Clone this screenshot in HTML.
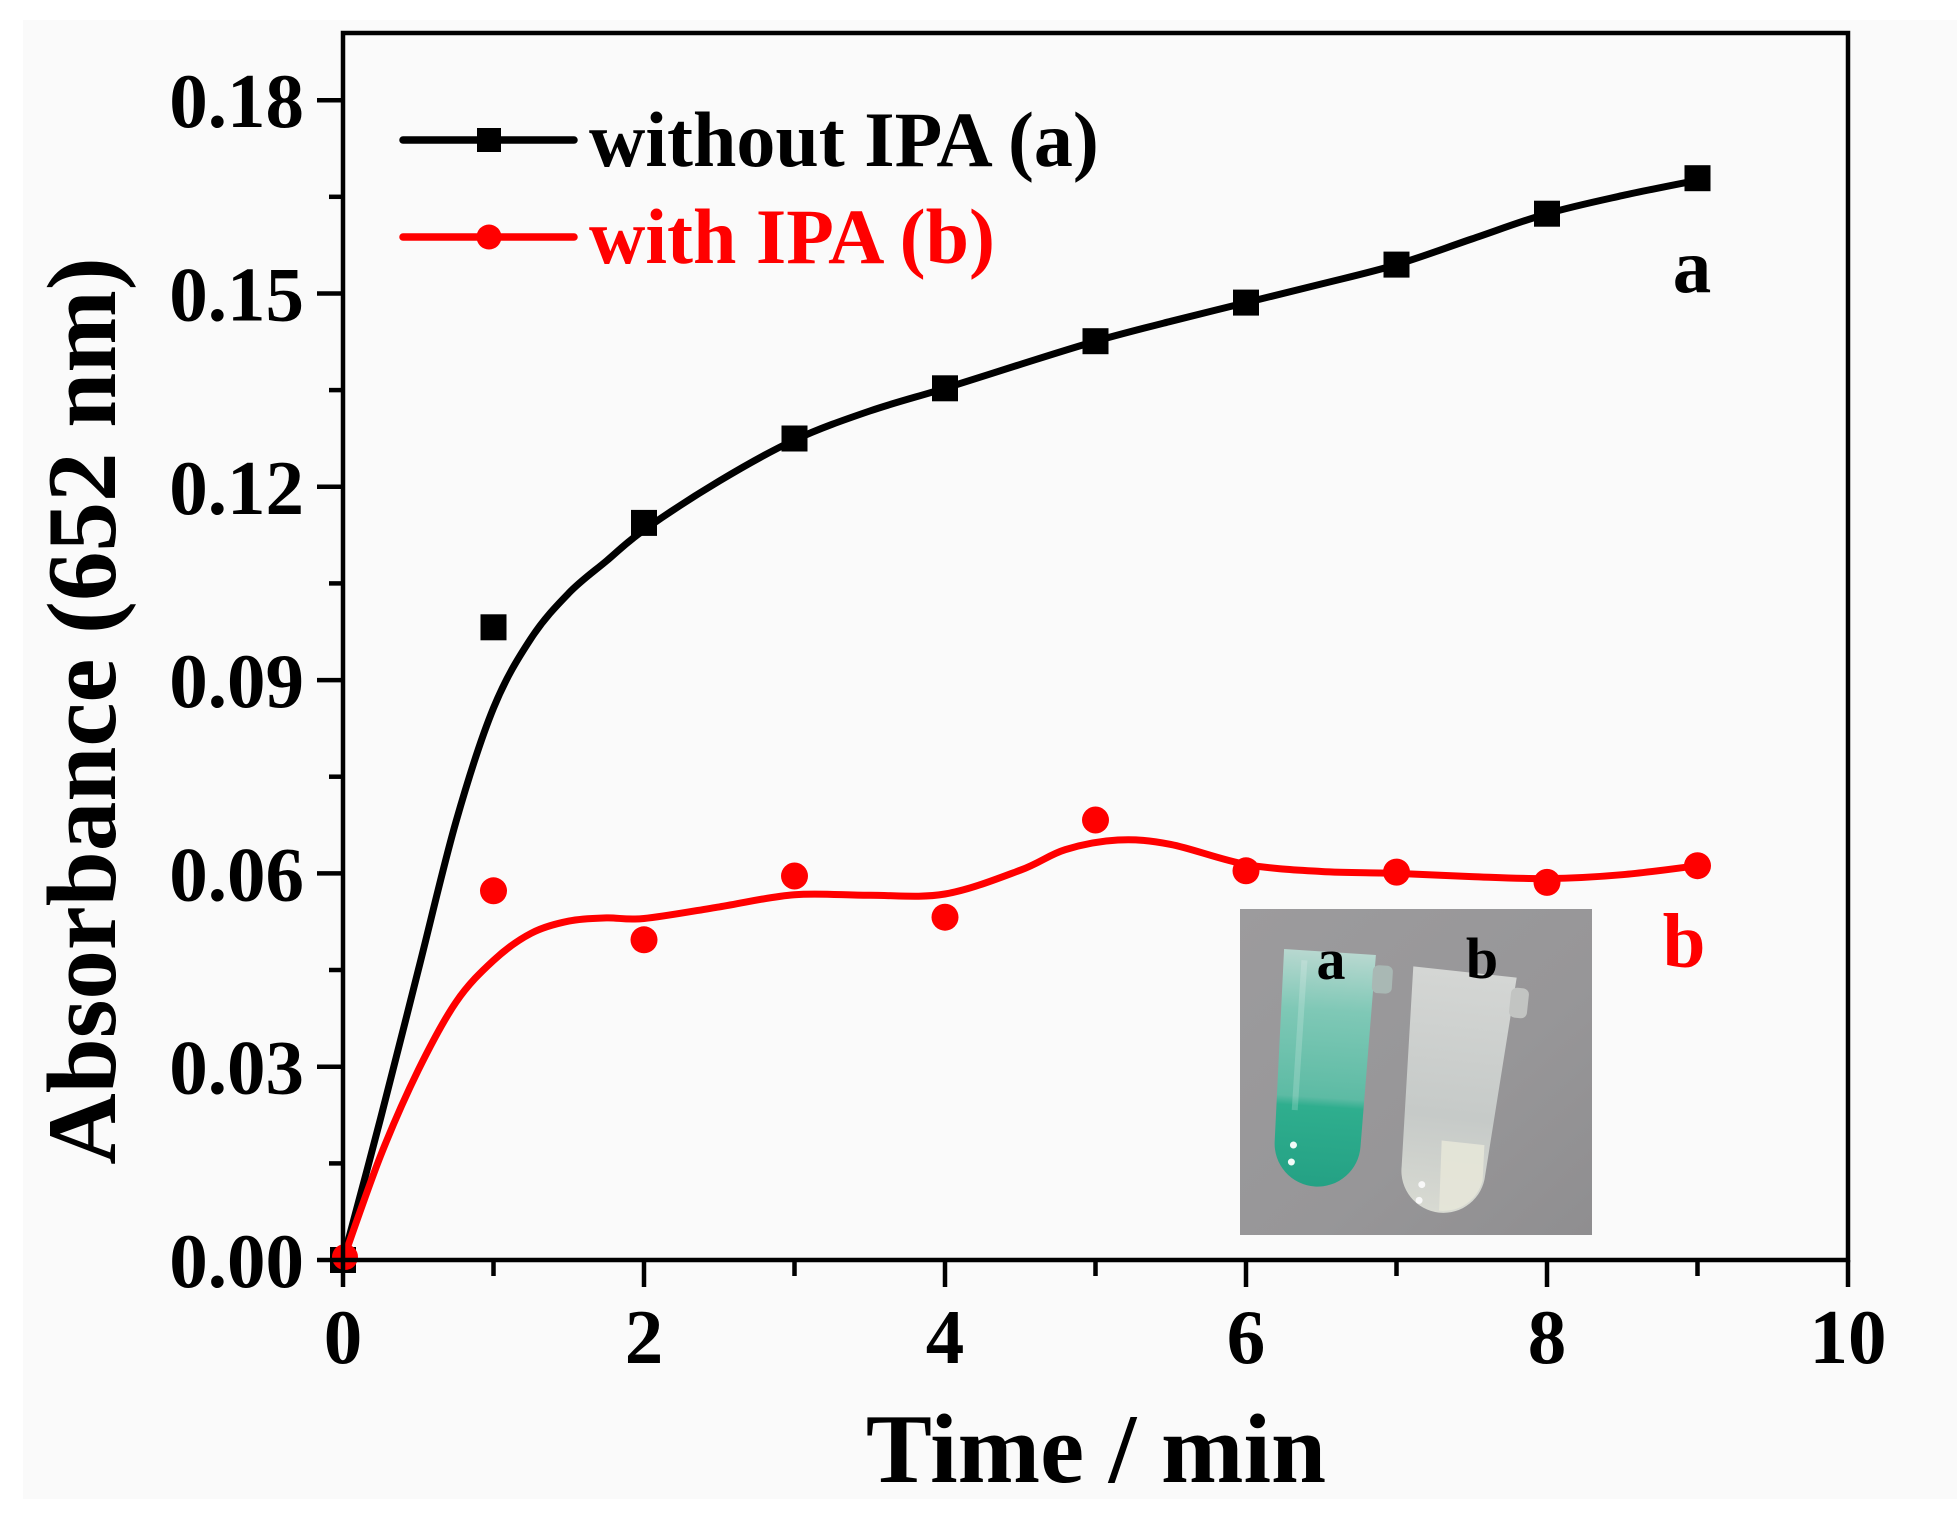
<!DOCTYPE html>
<html>
<head>
<meta charset="utf-8">
<style>
  html,body{margin:0;padding:0;background:#ffffff;}
  svg{display:block;}
  text{font-family:"Liberation Serif","Times New Roman",serif;font-weight:bold;}
</style>
</head>
<body>
<svg id="chart" width="1957" height="1528" viewBox="0 0 1957 1528" xmlns="http://www.w3.org/2000/svg">
  <defs>
    <linearGradient id="photoBg" x1="0" y1="0" x2="1" y2="1">
      <stop offset="0" stop-color="#9c9b9d"/>
      <stop offset="0.6" stop-color="#979698"/>
      <stop offset="1" stop-color="#8f8e90"/>
    </linearGradient>
    <linearGradient id="tubeA" x1="0" y1="0" x2="0" y2="1">
      <stop offset="0" stop-color="#b8d8d0"/>
      <stop offset="0.25" stop-color="#7fc8b6"/>
      <stop offset="0.62" stop-color="#5dbba4"/>
      <stop offset="0.66" stop-color="#2fae8e"/>
      <stop offset="1" stop-color="#24a184"/>
    </linearGradient>
    <linearGradient id="tubeB" x1="0" y1="0" x2="0" y2="1">
      <stop offset="0" stop-color="#d4d6d4"/>
      <stop offset="0.6" stop-color="#c6cac8"/>
      <stop offset="1" stop-color="#d8dad2"/>
    </linearGradient>
  </defs>

  <rect x="0" y="0" width="1957" height="1528" fill="#ffffff"/>
  <rect x="23" y="20" width="1934" height="1479" fill="#fafafa"/>

  <!-- curves -->
  <polyline id="curveA" fill="none" stroke="#000" stroke-width="7" stroke-linejoin="round" stroke-linecap="round"
    points="343,1260 380.6,1118.3 418.3,970 455.9,822 493.5,708 531.1,638.3 568.8,593.1 606.4,561 644,530 719.3,481 794.5,440 869.8,411 945,388.3 1020.3,364.4 1095.5,341.2 1170.8,321.3 1246,302.6 1321.3,284 1396.5,264.6 1471.8,239 1547,213.7 1622.3,195.6 1697.5,180.2"/>
  <polyline id="curveB" fill="none" stroke="#ff0000" stroke-width="7" stroke-linejoin="round" stroke-linecap="round"
    points="343,1260 380.6,1155.6 418.3,1070 455.9,1002.3 493.5,960.4 531.1,933.3 568.8,921.1 606.4,917.9 644,918.5 719.3,906.9 794.5,894.7 869.8,895.3 945,894 1020.3,870.2 1065.4,849.6 1118,840 1170.8,844.4 1246,864.4 1321.3,871.5 1396.5,873.4 1471.8,876.6 1547,878.6 1622.3,874.7 1697.5,865.7"/>

  <g fill="#000">
    <rect x="330" y="1247" width="26" height="26"/>
    <rect x="480.5" y="614.3" width="26" height="26"/>
    <rect x="631" y="509.9" width="26" height="26"/>
    <rect x="781.5" y="425.5" width="26" height="26"/>
    <rect x="932" y="375.3" width="26" height="26"/>
    <rect x="1082.5" y="328.2" width="26" height="26"/>
    <rect x="1233" y="289.6" width="26" height="26"/>
    <rect x="1383.5" y="251.6" width="26" height="26"/>
    <rect x="1534" y="200.7" width="26" height="26"/>
    <rect x="1684.5" y="165.2" width="26" height="26"/>
  </g>
  <g fill="#ff0000">
    <circle cx="345" cy="1257" r="13"/>
    <circle cx="493.5" cy="890.8" r="13.5"/>
    <circle cx="644" cy="939.8" r="13.5"/>
    <circle cx="794.5" cy="876" r="13.5"/>
    <circle cx="945" cy="917.2" r="13.5"/>
    <circle cx="1095.5" cy="820" r="13.5"/>
    <circle cx="1246" cy="870.8" r="13.5"/>
    <circle cx="1396.5" cy="872.1" r="13.5"/>
    <circle cx="1547" cy="882.4" r="13.5"/>
    <circle cx="1697.5" cy="865.7" r="13.5"/>
  </g>

  <rect x="343" y="33" width="1505" height="1227" fill="none" stroke="#000" stroke-width="4.5"/>

  <g stroke="#000" stroke-width="4.5">
    <line x1="343" y1="1260" x2="343" y2="1287"/>
    <line x1="644" y1="1260" x2="644" y2="1287"/>
    <line x1="945" y1="1260" x2="945" y2="1287"/>
    <line x1="1246" y1="1260" x2="1246" y2="1287"/>
    <line x1="1547" y1="1260" x2="1547" y2="1287"/>
    <line x1="1848" y1="1260" x2="1848" y2="1287"/>
    <line x1="493.5" y1="1260" x2="493.5" y2="1276"/>
    <line x1="794.5" y1="1260" x2="794.5" y2="1276"/>
    <line x1="1095.5" y1="1260" x2="1095.5" y2="1276"/>
    <line x1="1396.5" y1="1260" x2="1396.5" y2="1276"/>
    <line x1="1697.5" y1="1260" x2="1697.5" y2="1276"/>
  </g>
  <g stroke="#000" stroke-width="4.5">
    <line x1="343" y1="1260" x2="317" y2="1260"/>
    <line x1="343" y1="1066.7" x2="317" y2="1066.7"/>
    <line x1="343" y1="873.4" x2="317" y2="873.4"/>
    <line x1="343" y1="680.1" x2="317" y2="680.1"/>
    <line x1="343" y1="486.8" x2="317" y2="486.8"/>
    <line x1="343" y1="293.5" x2="317" y2="293.5"/>
    <line x1="343" y1="100.2" x2="317" y2="100.2"/>
    <line x1="343" y1="1163.4" x2="329" y2="1163.4"/>
    <line x1="343" y1="970" x2="329" y2="970"/>
    <line x1="343" y1="776.7" x2="329" y2="776.7"/>
    <line x1="343" y1="583.4" x2="329" y2="583.4"/>
    <line x1="343" y1="390.1" x2="329" y2="390.1"/>
    <line x1="343" y1="196.8" x2="329" y2="196.8"/>
  </g>

  <g font-size="77" text-anchor="middle" fill="#000">
    <text x="343" y="1363">0</text>
    <text x="644" y="1363">2</text>
    <text x="945" y="1363">4</text>
    <text x="1246" y="1363">6</text>
    <text x="1547" y="1363">8</text>
    <text x="1848" y="1363">10</text>
  </g>
  <g font-size="77" text-anchor="end" fill="#000">
    <text x="304" y="1287">0.00</text>
    <text x="304" y="1093.7">0.03</text>
    <text x="304" y="900.4">0.06</text>
    <text x="304" y="707.1">0.09</text>
    <text x="304" y="513.8">0.12</text>
    <text x="304" y="320.5">0.15</text>
    <text x="304" y="127.2">0.18</text>
  </g>

  <text x="1096" y="1482" font-size="99" text-anchor="middle" fill="#000">Time / min</text>
  <text transform="translate(115,711) rotate(-90)" x="0" y="0" font-size="99" text-anchor="middle" fill="#000">Absorbance (652 nm)</text>

  <line x1="403" y1="140" x2="574" y2="140" stroke="#000" stroke-width="7.5" stroke-linecap="round"/>
  <rect x="477" y="128" width="24" height="24" fill="#000"/>
  <text x="589" y="166" font-size="78" fill="#000">without IPA (a)</text>
  <line x1="403" y1="237" x2="574" y2="237" stroke="#ff0000" stroke-width="7.5" stroke-linecap="round"/>
  <circle cx="489" cy="237" r="12.5" fill="#ff0000"/>
  <text x="589" y="263" font-size="78" fill="#ff0000">with IPA (b)</text>

  <text x="1692" y="292" font-size="77" text-anchor="middle" fill="#000">a</text>
  <text x="1684" y="967" font-size="77" text-anchor="middle" fill="#ff0000">b</text>

  <rect x="1240" y="909" width="352" height="326" fill="url(#photoBg)"/>
  <g transform="translate(1330,952) rotate(3.7)">
    <path d="M-46,0 L46,0 L43,192 A43,43 0 0 1 -43,192 Z" fill="url(#tubeA)"/>
    <rect x="44" y="10" width="20" height="28" rx="6" fill="#a9b8b4"/>
    <rect x="-28" y="10" width="6" height="150" fill="#ffffff" opacity="0.18"/>
    <circle cx="-24" cy="195" r="3.5" fill="#f2fbf8"/>
    <circle cx="-25" cy="212" r="3.5" fill="#f2fbf8"/>
  </g>
  <g transform="translate(1465,972) rotate(6.2)">
    <path d="M-52,0 L52,0 L42,200 A42,42 0 0 1 -42,200 Z" fill="url(#tubeB)"/>
    <rect x="48" y="10" width="18" height="30" rx="6" fill="#c2c4c2"/>
    <path d="M-5,170 L38,170 L40,205 A40,40 0 0 1 0,240 Z" fill="#e6e6d8" opacity="0.9"/>
    <circle cx="-20" cy="216" r="3.5" fill="#f8f8f8"/>
    <circle cx="-21" cy="232" r="3.5" fill="#f8f8f8"/>
  </g>
  <text x="1331" y="979" font-size="58" text-anchor="middle" fill="#000">a</text>
  <text x="1482" y="978" font-size="58" text-anchor="middle" fill="#000">b</text>
</svg>
<script>
(function(){
  var NS="http://www.w3.org/2000/svg";
  ["curveA","curveB"].forEach(function(id){
    var pl=document.getElementById(id);
    if(!pl) return;
    var raw=pl.getAttribute("points").trim().split(/\s+/).map(function(s){var a=s.split(",");return [parseFloat(a[0]),parseFloat(a[1])];});
    var n=raw.length, d="M"+raw[0][0]+","+raw[0][1];
    for(var i=0;i<n-1;i++){
      var p0=raw[Math.max(i-1,0)],p1=raw[i],p2=raw[i+1],p3=raw[Math.min(i+2,n-1)];
      var c1x=p1[0]+(p2[0]-p0[0])/6,c1y=p1[1]+(p2[1]-p0[1])/6;
      var c2x=p2[0]-(p3[0]-p1[0])/6,c2y=p2[1]-(p3[1]-p1[1])/6;
      d+=" C"+c1x.toFixed(1)+","+c1y.toFixed(1)+" "+c2x.toFixed(1)+","+c2y.toFixed(1)+" "+p2[0]+","+p2[1];
    }
    var path=document.createElementNS(NS,"path");
    path.setAttribute("d",d);
    ["fill","stroke","stroke-width","stroke-linejoin","stroke-linecap"].forEach(function(a){path.setAttribute(a,pl.getAttribute(a));});
    pl.parentNode.insertBefore(path,pl);
    pl.parentNode.removeChild(pl);
  });
})();
</script>
</body>
</html>
